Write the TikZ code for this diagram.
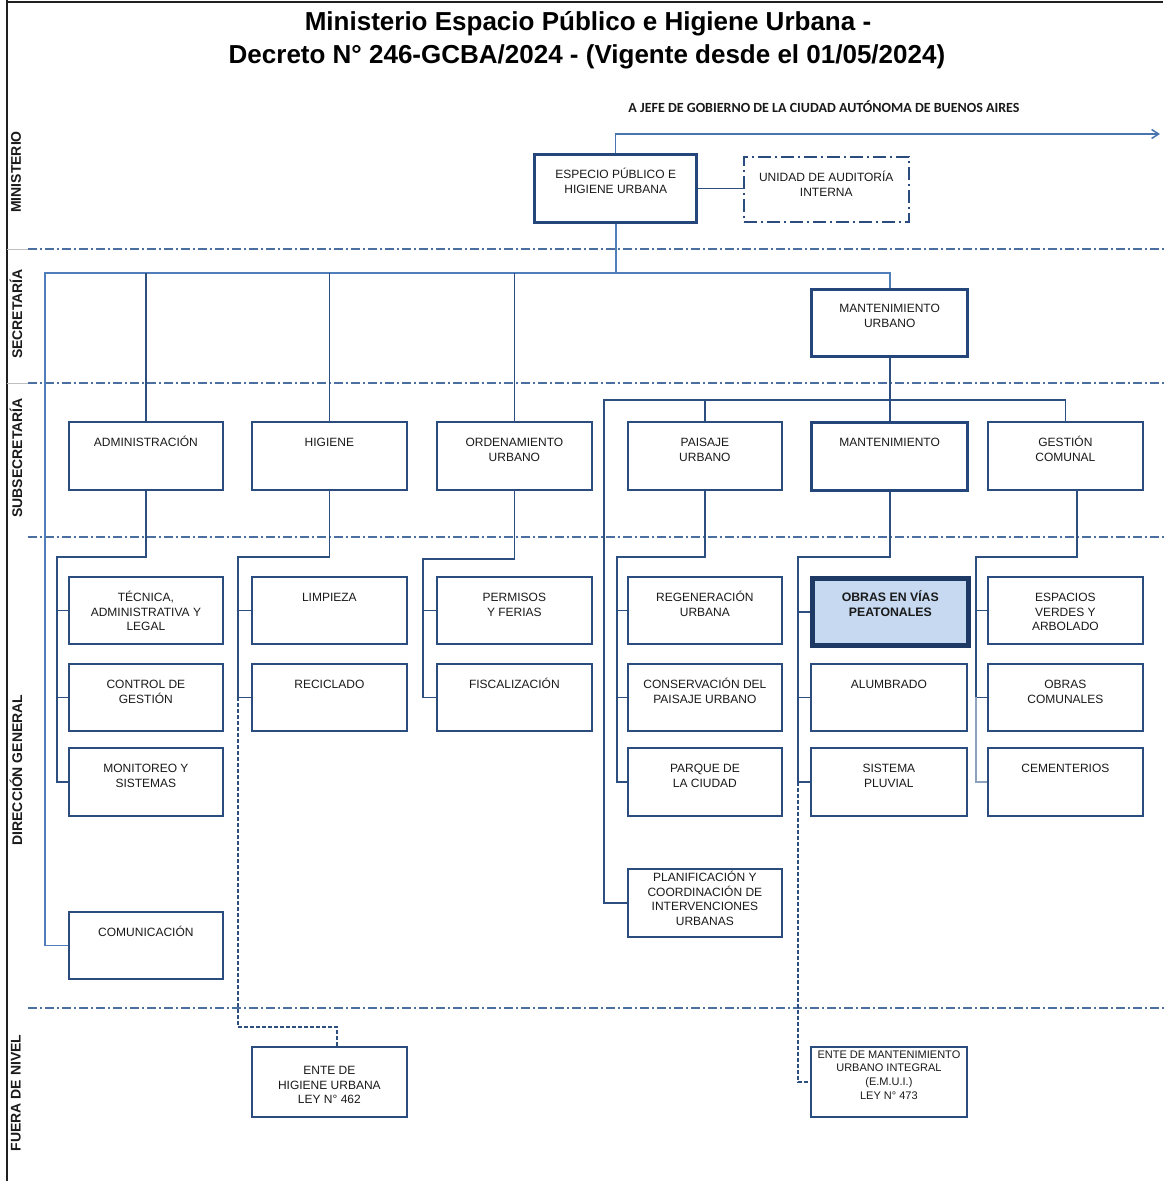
\documentclass[tikz,border=0pt]{standalone}
\usepackage{fontspec}
\setmainfont{Liberation Sans}
\newfontfamily\carl{Carlito}
\usetikzlibrary{arrows.meta,calc}
\definecolor{navy}{HTML}{2C4F7F}
\definecolor{boxc}{HTML}{2B4C7E}
\definecolor{thickc}{HTML}{24467A}
\definecolor{lightc}{HTML}{4F7EBB}
\definecolor{sepc}{HTML}{4A6FA0}
\definecolor{hil}{HTML}{C6D9F1}
\definecolor{hilb}{HTML}{1E3A64}
\definecolor{txt}{HTML}{1A1A1A}
\definecolor{grayl}{HTML}{8DA2BE}
\definecolor{frame}{HTML}{202020}
\newcommand\bx[8][plain]{%
  \node[box,#1,minimum width=#5pt,minimum height=#6pt,anchor=north west] (#2) at (#3,#4) {};
  \node[lbl,#1 lbl,anchor=north] (#2-t) at ($(#2.north)+(0,#7)$) {\rule{0pt}{12pt}#8};
}
\begin{document}
\begin{tikzpicture}[x=1pt,y=-1pt,
  box/.style={draw=boxc,line width=1.8pt,fill=white,inner sep=0pt},
  plain/.style={},
  plain lbl/.style={},
  tbox/.style={draw=thickc,line width=3.4pt},
  tbox lbl/.style={},
  hbox/.style={draw=hilb,line width=4.6pt,fill=hil},
  hbox lbl/.style={font=\fontsize{12.3}{14.5}\selectfont\bfseries},
  ubox/.style={draw=boxc,line width=1.5pt,dash pattern=on 13pt off 4pt on 2pt off 4pt},
  ubox lbl/.style={},
  small/.style={},
  small lbl/.style={font=\fontsize{11}{13.6}\selectfont},
  lbl/.style={inner sep=0pt,align=center,font=\fontsize{12}{14.5}\selectfont,text=txt},
  dark/.style={draw=navy,line width=1.8pt},
  light/.style={draw=lightc,line width=1.6pt},
  pale/.style={draw=grayl,line width=1.4pt},
  sep/.style={draw=sepc,line width=1.4pt,dash pattern=on 9pt off 3pt on 2pt off 3pt},
  dsh/.style={draw=navy,line width=1.3pt,dash pattern=on 4pt off 2pt},
  sec/.style={rotate=90,font=\fontsize{14}{16}\selectfont\bfseries,text=txt,inner sep=0pt},
  ttl/.style={font=\fontsize{26}{30}\selectfont\bfseries,text=black,inner sep=0pt}
]
\useasboundingbox (0,0) rectangle (1165,1181);
\fill[white] (0,0) rectangle (1165,1181);
% frame
\draw[frame,line width=2pt] (7,0) -- (7,1181);
\draw[frame,line width=2pt] (7,2) -- (1163,2);
% section separators
\draw[gray!50,line width=1pt] (7,249) -- (28,249);
\draw[gray!50,line width=1pt] (7,383) -- (28,383);
\draw[sep] (28,249) -- (1165,249);
\draw[sep] (28,383) -- (1165,383);
\draw[sep] (28,537) -- (1165,537);
\draw[sep] (28,1008) -- (1165,1008);
% section labels
\node[sec] (lmin) at (16,172) {MINISTERIO};
\node[sec] (lsec) at (16,314) {SECRETARÍA};
\node[sec] (lsub) at (16,458) {SUBSECRETARÍA};
\node[sec] (ldg) at (16,770) {DIRECCIÓN GENERAL};
\node[sec] (lfn) at (16,1093) {FUERA DE NIVEL};
% titles
\node[ttl] (title1) at (588,24) {Ministerio Espacio Público e Higiene Urbana -};
\node[ttl] (title2) at (587,57) {Decreto N° 246-GCBA/2024 - (Vigente desde el 01/05/2024)};
\node[font=\carl\fontsize{14}{16}\selectfont\bfseries,inner sep=0pt,text=txt] (jefe) at (824,107) {A JEFE DE GOBIERNO DE LA CIUDAD AUTÓNOMA DE BUENOS AIRES};
% boxes
\bx[tbox]{esp}{533}{153}{162}{68}{13.3}{ESPECIO PÚBLICO E\\HIGIENE URBANA}
\bx[ubox]{uai}{743}{156}{165}{65}{13.3}{UNIDAD DE AUDITORÍA\\INTERNA}
\bx[tbox]{mu}{810}{288}{156}{67}{12.3}{MANTENIMIENTO\\URBANO}
\bx{adm}{68}{421}{154}{68}{13.3}{ADMINISTRACIÓN}
\bx{hig}{251}{421}{155}{68}{13.3}{HIGIENE}
\bx{ord}{436}{421}{155}{68}{13.3}{ORDENAMIENTO\\URBANO}
\bx{pai}{627}{421}{154}{68}{13.3}{PAISAJE\\URBANO}
\bx[tbox]{man}{810}{421}{156}{68}{13.3}{MANTENIMIENTO}
\bx{ges}{987}{421}{155}{68}{13.3}{GESTIÓN\\COMUNAL}
% direcciones
\bx{tec}{68}{576}{154}{67}{13.3}{TÉCNICA,\\ADMINISTRATIVA Y\\LEGAL}
\bx{ctl}{68}{663}{154}{67}{13.3}{CONTROL DE\\GESTIÓN}
\bx{mon}{68}{747}{154}{68}{13.3}{MONITOREO Y\\SISTEMAS}
\bx{com}{68}{911}{154}{67}{13.3}{COMUNICACIÓN}
\bx{lim}{251}{576}{155}{67}{13.3}{LIMPIEZA}
\bx{rec}{251}{663}{155}{67}{13.3}{RECICLADO}
\bx{per}{436}{576}{155}{67}{13.3}{PERMISOS\\Y FERIAS}
\bx{fis}{436}{663}{155}{67}{13.3}{FISCALIZACIÓN}
\bx{reg}{627}{576}{154}{67}{13.3}{REGENERACIÓN\\URBANA}
\bx{con}{627}{663}{154}{67}{13.3}{CONSERVACIÓN DEL\\PAISAJE URBANO}
\bx{par}{627}{747}{154}{68}{13.3}{PARQUE DE\\LA CIUDAD}
\bx{pla}{627}{868}{154}{68}{1.3}{PLANIFICACIÓN Y\\COORDINACIÓN DE\\INTERVENCIONES\\URBANAS}
\bx[hbox]{obr}{810}{576}{156}{67}{13.3}{OBRAS EN VÍAS\\PEATONALES}
\bx{alu}{810}{663}{156}{67}{13.3}{ALUMBRADO}
\bx{plu}{810}{747}{156}{68}{13.3}{SISTEMA\\PLUVIAL}
\bx{esv}{987}{576}{155}{67}{13.3}{ESPACIOS\\VERDES Y\\ARBOLADO}
\bx{obc}{987}{663}{155}{67}{13.3}{OBRAS\\COMUNALES}
\bx{cem}{987}{747}{155}{68}{13.3}{CEMENTERIOS}
% fuera de nivel
\bx{ehu}{251}{1046}{155}{70}{16.3}{ENTE DE\\HIGIENE URBANA\\LEY N° 462}
\bx[small]{emu}{810}{1046}{156}{70}{0}{ENTE DE MANTENIMIENTO\\URBANO INTEGRAL\\(E.M.U.I.)\\LEY N° 473}
% coordinates
\coordinate (jefeend) at (1160,134);
\coordinate (busL) at (45,273);
\coordinate (sbL) at (604,400);
\coordinate (t1) at (57,557);
\coordinate (t2) at (238,557);
\coordinate (t3) at (423,559);
\coordinate (t4) at (617,557);
\coordinate (t5) at (798,557);
\coordinate (t6) at (976,557);
\coordinate (g6) at (1077,489);
\coordinate (ehudrop) at (337,1027);
% connectors
\draw[line width=1.5pt,draw=lightc!80!navy,-{Straight Barb[length=7pt,width=9pt]}] (esp.north) |- (jefeend);
\draw[dark,line width=1.5pt] (esp.east) -- (esp.east -| uai.west);
\draw[light] (esp.south) |- (busL) |- (com.west);
\draw[light] (esp.south |- busL) -| (mu.north);
\draw[dark] (adm.north |- busL) -- (adm.north);
\draw[dark] (hig.north |- busL) -- (hig.north);
\draw[dark] (ord.north |- busL) -- (ord.north);
\draw[dark] (mu.south) -- (man.north);
\draw[dark] (pla.west) -| (sbL) -| (ges.north);
\draw[dark] (pai.north |- sbL) -- (pai.north);
% col 1
\draw[dark] (adm.south) |- (t1) |- (mon.west);
\draw[dark] (t1 |- tec.west) -- (tec.west);
\draw[dark] (t1 |- ctl.west) -- (ctl.west);
% col 2
\draw[dark] (hig.south) |- (t2) |- (rec.west);
\draw[dark] (t2 |- lim.west) -- (lim.west);
\draw[dsh] (t2 |- rec.west) |- (ehudrop) -- (ehudrop |- ehu.north);
% col 3
\draw[dark] (ord.south) |- (t3) |- (fis.west);
\draw[dark] (t3 |- per.west) -- (per.west);
% col 4
\draw[dark] (pai.south) |- (t4) |- (par.west);
\draw[dark] (t4 |- reg.west) -- (reg.west);
\draw[dark] (t4 |- con.west) -- (con.west);
% col 5
\draw[dark] (man.south) |- (t5) |- (plu.west);
\draw[dark] (t5 |- obr.west) -- (obr.west);
\draw[dark] (t5 |- alu.west) -- (alu.west);
\draw[dsh] (t5 |- plu.west) |- (emu.west);
% col 6
\draw[dark] (g6) |- (t6) |- (obc.west);
\draw[dark] (t6 |- esv.west) -- (esv.west);
\draw[pale] (t6 |- obc.west) |- (cem.west);
\end{tikzpicture}
\end{document}
